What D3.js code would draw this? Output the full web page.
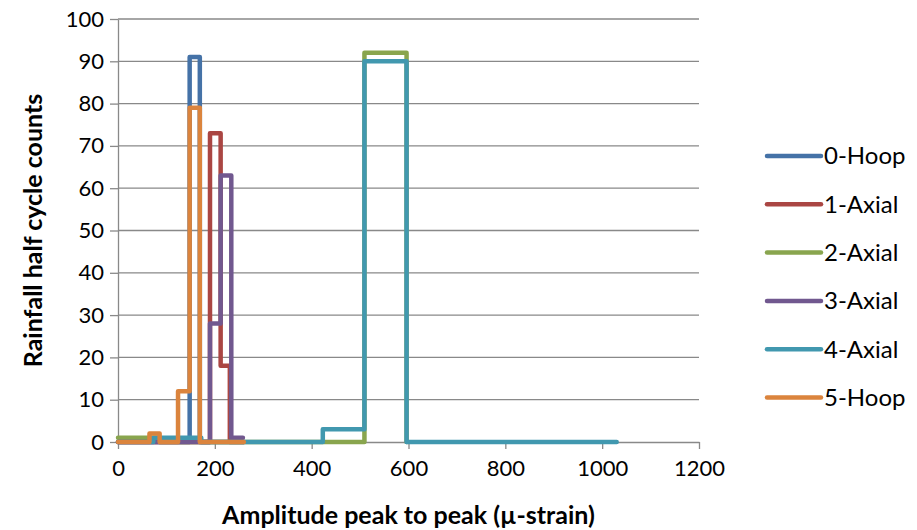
<!DOCTYPE html>
<html>
<head>
<meta charset="utf-8">
<script src="https://cdn.jsdelivr.net/npm/d3@7"></script>
<style>
  html, body { margin: 0; padding: 0; background: #fff; }
  svg text { font-family: Lato, 'Open Sans', sans-serif; fill: #000; }
  .tick text { font-size: 22px; }
  .axis-title { font-size: 25px; font-weight: bold; }
  .legend-label { font-size: 24px; }
</style>
</head>
<body>
<div id="app"></div>
<script>
// series names and colours
const seriesNames = ['0-Hoop', '1-Axial', '2-Axial', '3-Axial', '4-Axial', '5-Hoop'];
const seriesColors = ['#4572A7', '#AA4643', '#89A54E', '#71588F', '#4198AF', '#DB843D'];

// bin edges (µ-strain) and half cycle counts per bin
const hoop0Edges = [0, 148, 169, 260];
const hoop0Counts = [0, 91, 0];
const axial1Edges = [0, 190, 212, 231, 260];
const axial1Counts = [0, 73, 18, 0];
const axial2Edges = [0, 86, 509, 596, 597];
const axial2Counts = [1, 0, 92, 0];
const axial3Edges = [0, 190, 212, 234, 258];
const axial3Counts = [0, 28, 63, 1];
const axial4Edges = [0, 73, 172, 423, 509, 596, 1030];
const axial4Counts = [0, 1, 0, 3, 90, 0];
const hoop5Edges = [0, 65, 86, 124, 148, 169, 260];
const hoop5Counts = [0, 2, 0, 12, 79, 0];

const xTicks = [0, 200, 400, 600, 800, 1000, 1200];
const yTicks = [0, 10, 20, 30, 40, 50, 60, 70, 80, 90, 100];

const allEdges = [hoop0Edges, axial1Edges, axial2Edges, axial3Edges, axial4Edges, hoop5Edges];
const allCounts = [hoop0Counts, axial1Counts, axial2Counts, axial3Counts, axial4Counts, hoop5Counts];

// canvas
const containerWidth = 917;
const containerHeight = 530;
const margin = { top: 19, right: 218, bottom: 88, left: 118 };
const width = containerWidth - margin.left - margin.right;
const height = containerHeight - margin.top - margin.bottom;
const gridColor = '#898989';

const wrapper = d3
  .select('#app')
  .append('svg')
  .attr('width', containerWidth)
  .attr('height', containerHeight);

const bounds = wrapper
  .append('g')
  .attr('transform', `translate(${margin.left},${margin.top})`);

// scales
const xScale = d3.scaleLinear().domain([0, 1200]).range([0, width]);
const yScale = d3.scaleLinear().domain([0, 100]).range([height, 0]);

// gridlines
bounds
  .append('g')
  .selectAll('line')
  .data(yTicks.filter((d) => d > 0))
  .enter()
  .append('line')
  .attr('x1', 0)
  .attr('x2', width)
  .attr('y1', (d) => yScale(d))
  .attr('y2', (d) => yScale(d))
  .attr('stroke', gridColor)
  .attr('stroke-width', 1.3);

// axes
const xAxis = bounds
  .append('g')
  .attr('transform', `translate(0, ${height})`)
  .call(
    d3.axisBottom(xScale)
      .tickValues(xTicks)
      .tickFormat(d3.format('d'))
      .tickSize(7)
      .tickPadding(11)
      .tickSizeOuter(0)
  );

const yAxis = bounds
  .append('g')
  .call(
    d3.axisLeft(yScale)
      .tickValues(yTicks)
      .tickFormat(d3.format('d'))
      .tickSize(8)
      .tickPadding(6)
      .tickSizeOuter(0)
  );

[xAxis, yAxis].forEach((axis) => {
  axis.selectAll('.domain, .tick line').attr('stroke', gridColor).attr('stroke-width', 1.3);
  axis.attr('font-size', null).attr('font-family', null);
});

xAxis
  .append('text')
  .attr('class', 'axis-title')
  .attr('text-anchor', 'middle')
  .attr('x', width / 2)
  .attr('y', 82)
  .text('Amplitude peak to peak (µ-strain)');

yAxis
  .append('text')
  .attr('class', 'axis-title')
  .attr('text-anchor', 'middle')
  .attr('transform', 'rotate(-90)')
  .attr('x', -height / 2)
  .attr('y', -76)
  .text('Rainfall half cycle counts');

// step lines
const lineGenerator = d3
  .line()
  .x((d) => xScale(d[0]))
  .y((d) => yScale(d[1]))
  .curve(d3.curveStepAfter);

const stepPoints = (edges, counts) => {
  const points = counts.map((c, i) => [edges[i], c]);
  points.push([edges[edges.length - 1], counts[counts.length - 1]]);
  return points;
};

bounds
  .append('g')
  .selectAll('path')
  .data(seriesNames)
  .enter()
  .append('path')
  .attr('d', (_, i) => lineGenerator(stepPoints(allEdges[i], allCounts[i])))
  .attr('fill', 'none')
  .attr('stroke', (_, i) => seriesColors[i])
  .attr('stroke-width', 4.5)
  .attr('stroke-linejoin', 'round')
  .attr('stroke-linecap', 'round');

// legend
const legend = wrapper
  .append('g')
  .attr('transform', 'translate(767, 156)');

const legendItems = legend
  .selectAll('g')
  .data(seriesNames)
  .enter()
  .append('g')
  .attr('transform', (_, i) => `translate(0, ${i * 48.3})`);

legendItems
  .append('line')
  .attr('x1', 0)
  .attr('x2', 54)
  .attr('stroke', (_, i) => seriesColors[i])
  .attr('stroke-width', 4.5)
  .attr('stroke-linecap', 'round');

legendItems
  .append('text')
  .attr('class', 'legend-label')
  .attr('x', 57)
  .attr('dy', '0.35em')
  .text((d) => d);
</script>
</body>
</html>
